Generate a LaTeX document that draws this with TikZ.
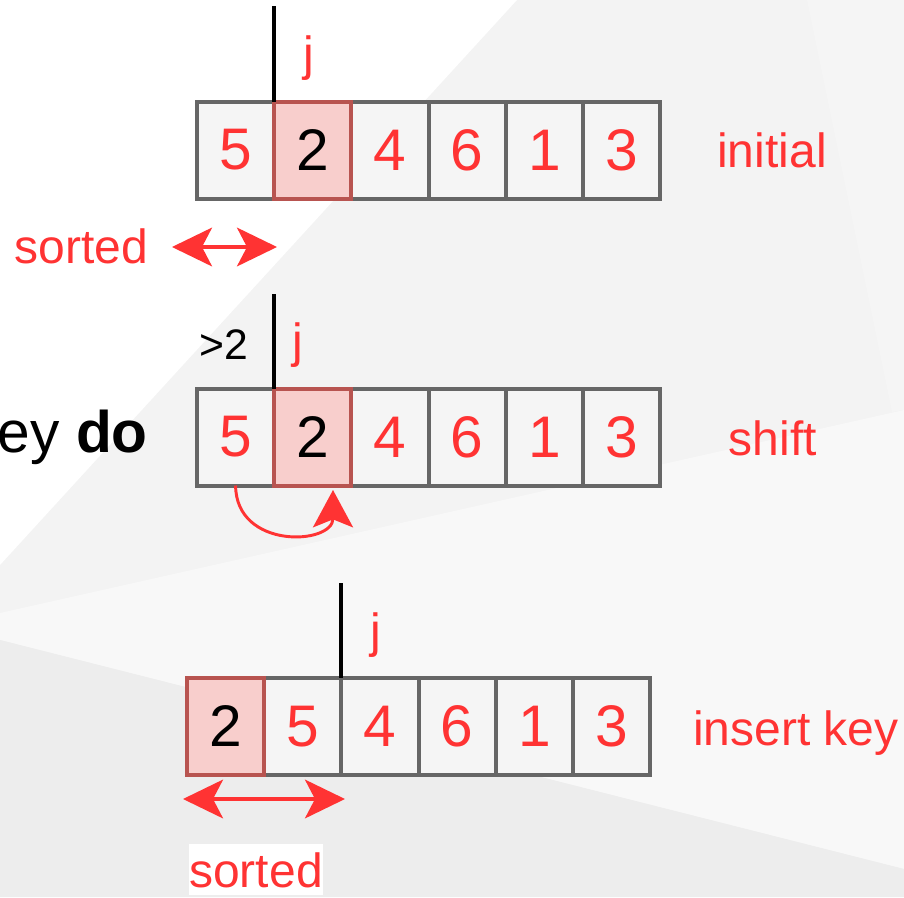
\documentclass[tikz,border=0pt]{standalone}
\usepackage{fontspec}
\setmainfont{Liberation Sans}
\usetikzlibrary{arrows.meta}
\definecolor{labelred}{HTML}{FF3333}
\definecolor{cellgrey}{HTML}{666666}
\definecolor{cellfill}{HTML}{F5F5F5}
\definecolor{keyfill}{HTML}{F8CECC}
\definecolor{keyline}{HTML}{B85450}
\definecolor{bgmid}{HTML}{F3F3F3}
\definecolor{bgright}{HTML}{F5F5F5}
\definecolor{bgband}{HTML}{F8F8F8}
\definecolor{bglow}{HTML}{EDEDED}

\begin{document}
\begin{tikzpicture}[x=0.75pt, y=-0.75pt,
  cell/.style={draw=cellgrey, fill=cellfill, line width=3pt, outer sep=0pt, inner sep=0pt,
    minimum width=57.9pt, minimum height=72.75pt, text=labelred, font=\fontsize{44}{44}\selectfont},
  keycell/.style={cell, draw=keyline, fill=keyfill, text=black},
  lbl/.style={text=labelred, inner sep=0pt, font=\fontsize{36}{36}\selectfont},
  jbar/.style={draw=black, line width=3pt},
  sortspan/.style={draw=labelred, line width=2.5pt,
    {Stealth[length=30pt, width=29pt, inset=7.5pt]}-{Stealth[length=30pt, width=29pt, inset=7.5pt]}},
  shiftarrow/.style={draw=labelred, line width=2.2pt, -{Stealth[length=28pt, width=30pt, inset=6pt]}}]

\path[use as bounding box, clip] (0,0) rectangle (904,897);

% Background
\fill[bgmid] (0,0) rectangle (904,897);
\fill[white] (0,0) -- (517,0) -- (0,565) -- cycle;
\fill[bgright] (807,0) -- (904,0) -- (904,410) -- (892,412) -- cycle;
\fill[bgband] (0,613) -- (904,410) -- (904,869) -- (0,640) -- cycle;
\fill[bglow] (0,640) -- (904,869) -- (904,897) -- (0,897) -- cycle;

% Marker lines
\coordinate (jtop1) at (274.2,6);
\coordinate (jtop2) at (274.2,294);
\coordinate (jtop3) at (341.4,583);

% Initial row
\node[cell] (a1) at (235.6,150) {5};
\node[cell] (a3) at (390.0,150) {4};
\node[cell] (a4) at (467.2,150) {6};
\node[cell] (a5) at (544.4,150) {1};
\node[cell] (a6) at (621.6,150) {3};
\node[keycell] (a2) at (312.8,150) {2};
\draw[jbar] (jtop1) -- (a1.north east);

% Shift row
\node[cell] (b1) at (235.6,437) {5};
\node[cell] (b3) at (390.0,437) {4};
\node[cell] (b4) at (467.2,437) {6};
\node[cell] (b5) at (544.4,437) {1};
\node[cell] (b6) at (621.6,437) {3};
\node[keycell] (b2) at (312.8,437) {2};
\draw[jbar] (jtop2) -- (b1.north east);

% Insert row
\node[cell] (c2) at (302.8,726.5) {5};
\node[cell] (c3) at (380.0,726.5) {4};
\node[cell] (c4) at (457.2,726.5) {6};
\node[cell] (c5) at (534.4,726.5) {1};
\node[cell] (c6) at (611.6,726.5) {3};
\node[keycell] (c1) at (225.6,726.5) {2};
\draw[jbar] (jtop3) -- (c2.north east);

% Labels
\node[lbl] (j1) at (309,58) {j};
\node[lbl] (j2) at (298,345) {j};
\node[lbl] (j3) at (376,635) {j};
\node[lbl, anchor=base] (initial) at (772,167) {initial};
\node[lbl, anchor=base] (shift) at (773,455) {shift};
\node[lbl, anchor=base] (insert) at (796,745) {insert key};
\node[lbl, anchor=base] (sorted1) at (81.5,263) {sorted};
\node[lbl, anchor=base, fill=white, inner ysep=6pt] (sorted2) at (256,887) {sorted};
\node[inner sep=0pt, font=\fontsize{32}{32}\selectfont] (gt) at (224,345) {>2};
\node[inner sep=0pt, anchor=base east, font=\fontsize{44}{44}\selectfont] (cond) at (148,452) {key \textbf{do}};

% Arrows
\coordinate (span1l) at (172,247);
\coordinate (span1r) at (277,247);
\draw[sortspan] (span1l) -- (span1r);
\coordinate (span3l) at (183,799);
\coordinate (span3r) at (345,799);
\draw[sortspan] (span3l) -- (span3r);
\coordinate (tip2) at (333,490);
\draw[shiftarrow] (b1.south) .. controls (236,550) and (333,545) .. (tip2);

\end{tikzpicture}
\end{document}
